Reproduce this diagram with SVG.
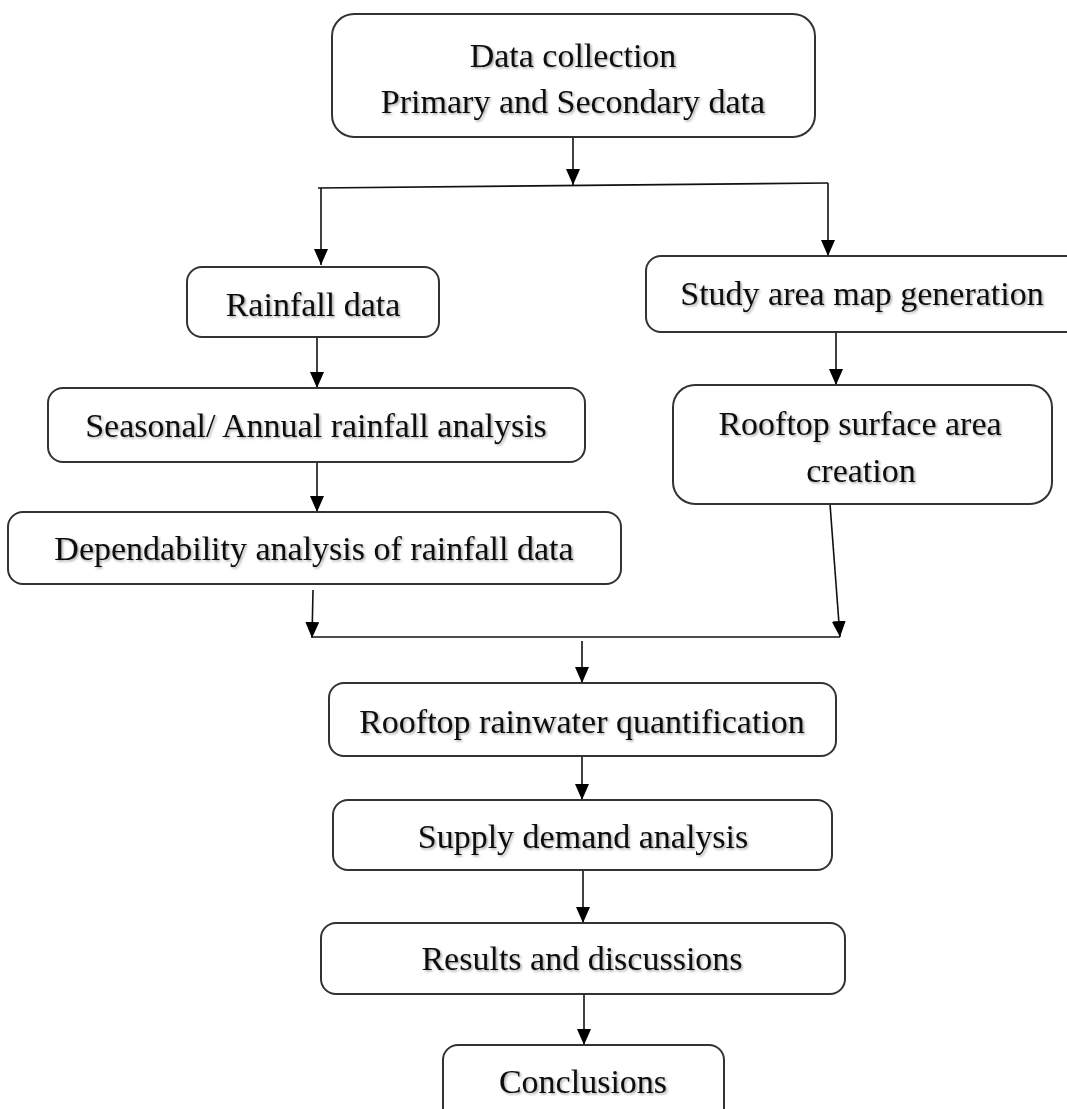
<svg xmlns="http://www.w3.org/2000/svg" width="1067" height="1109" viewBox="0 0 1067 1109">
<style>
.box{fill:#fff;stroke:#333;stroke-width:2}
.t{font-family:"Liberation Serif","Times New Roman",serif;font-size:34px;fill:#111;text-anchor:middle;filter:url(#sh)}
.ln{fill:none;stroke:#111;stroke-width:1.6}
</style>
<defs>
<filter id="sh" x="-5%" y="-30%" width="110%" height="160%">
<feDropShadow dx="1.5" dy="1.5" stdDeviation="1" flood-color="#000" flood-opacity="0.35"/>
</filter>
<marker id="ah" markerWidth="14" markerHeight="16" refX="7" refY="16" orient="auto-start-reverse" markerUnits="userSpaceOnUse" viewBox="0 0 14 16">
<path d="M0,0 L14,0 L7,16 Z" fill="#000" transform="rotate(0)"/>
</marker>
<marker id="a" markerWidth="16" markerHeight="14" refX="16" refY="7" orient="auto" markerUnits="userSpaceOnUse" viewBox="0 0 16 14">
<path d="M0,0 L16,7 L0,14 Z" fill="#000"/>
</marker>
</defs>
<g id="connectors">
<line class="ln" x1="573" y1="137" x2="573" y2="185" marker-end="url(#a)"/>
<line class="ln" x1="318" y1="188" x2="828" y2="183"/>
<line class="ln" x1="321" y1="188" x2="321" y2="265" marker-end="url(#a)"/>
<line class="ln" x1="828" y1="183" x2="828" y2="256" marker-end="url(#a)"/>
<line class="ln" x1="317" y1="337" x2="317" y2="388" marker-end="url(#a)"/>
<line class="ln" x1="317" y1="462" x2="317" y2="512" marker-end="url(#a)"/>
<line class="ln" x1="836" y1="332" x2="836" y2="385" marker-end="url(#a)"/>
<line class="ln" x1="313" y1="590" x2="312" y2="638" marker-end="url(#a)"/>
<line class="ln" x1="830" y1="504" x2="840" y2="637" marker-end="url(#a)"/>
<line class="ln" x1="312" y1="637" x2="840" y2="637"/>
<line class="ln" x1="582" y1="641" x2="582" y2="683" marker-end="url(#a)"/>
<line class="ln" x1="582" y1="756" x2="582" y2="800" marker-end="url(#a)"/>
<line class="ln" x1="583" y1="870" x2="583" y2="923" marker-end="url(#a)"/>
<line class="ln" x1="584" y1="994" x2="584" y2="1045" marker-end="url(#a)"/>
</g>
<g id="n_data">
<rect class="box" x="332" y="14" width="483" height="123" rx="22"/>
<text class="t" x="573" y="67">Data collection</text>
<text class="t" x="573" y="113">Primary and Secondary data</text>
</g>
<g id="n_rainfall">
<rect class="box" x="187" y="267" width="252" height="70" rx="15"/>
<text class="t" x="313" y="316">Rainfall data</text>
</g>
<g id="n_seasonal">
<rect class="box" x="48" y="388" width="537" height="74" rx="15"/>
<text class="t" x="316" y="437">Seasonal/ Annual rainfall analysis</text>
</g>
<g id="n_depend">
<rect class="box" x="8" y="512" width="613" height="72" rx="15"/>
<text class="t" x="314" y="560">Dependability analysis of rainfall data</text>
</g>
<g id="n_study">
<rect class="box" x="646" y="256" width="450" height="76" rx="15"/>
<text class="t" x="862" y="305">Study area map generation</text>
</g>
<g id="n_rooftop_surface">
<rect class="box" x="673" y="385" width="379" height="119" rx="22"/>
<text class="t" x="860" y="435">Rooftop surface area</text>
<text class="t" x="861" y="482">creation</text>
</g>
<g id="n_quant">
<rect class="box" x="329" y="683" width="507" height="73" rx="15"/>
<text class="t" x="582" y="733">Rooftop rainwater quantification</text>
</g>
<g id="n_supply">
<rect class="box" x="333" y="800" width="499" height="70" rx="15"/>
<text class="t" x="583" y="848">Supply demand analysis</text>
</g>
<g id="n_results">
<rect class="box" x="321" y="923" width="524" height="71" rx="15"/>
<text class="t" x="582" y="970">Results and discussions</text>
</g>
<g id="n_concl">
<rect class="box" x="443" y="1045" width="281" height="80" rx="15"/>
<text class="t" x="583" y="1093">Conclusions</text>
</g>
</svg>
